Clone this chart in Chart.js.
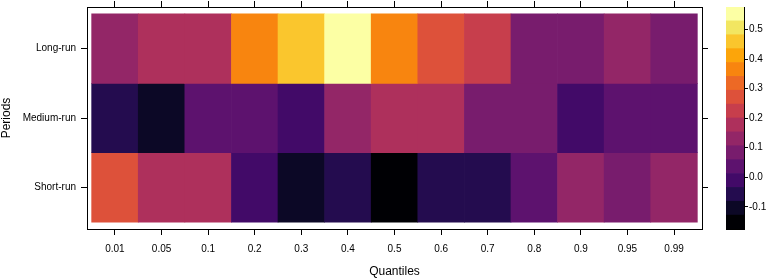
<!DOCTYPE html>
<html><head><meta charset="utf-8">
<script src="https://cdn.jsdelivr.net/npm/chart.js@4.4.1/dist/chart.umd.min.js"></script>
<style>
html,body{margin:0;padding:0;background:#fff;width:769px;height:279px;overflow:hidden}
#main{position:absolute;left:0;top:0}
#bar{position:absolute;left:712px;top:0}
</style></head><body>
<canvas id="main" width="712" height="279"></canvas>
<canvas id="bar" width="57" height="279"></canvas>
<script>
// ---- data ----
const quantiles = ["0.01","0.05","0.1","0.2","0.3","0.4","0.5","0.6","0.7","0.8","0.9","0.95","0.99"];
const periods = ["Long-run","Medium-run","Short-run"];
const longRun   = [0.13, 0.18, 0.17, 0.37, 0.46, 0.576, 0.36, 0.27, 0.22, 0.08, 0.09, 0.13, 0.08];
const mediumRun = [-0.06, -0.10, 0.04, 0.03, -0.01, 0.13, 0.18, 0.17, 0.09, 0.08, -0.02, 0.04, 0.03];
const shortRun  = [0.27, 0.18, 0.17, -0.01, -0.11, -0.06, -0.175, -0.05, -0.06, 0.04, 0.13, 0.08, 0.14];
const colorbarTicks = [-0.1, 0.0, 0.1, 0.2, 0.3, 0.4, 0.5];

// ---- style ----
const palette = ["#000004","#0C0826","#240C4F","#420A68","#5D126E","#781C6D","#932667","#AE305C",
                 "#C73E4C","#DD513A","#ED6925","#F8850F","#FCA50A","#FAC62D","#F2E661","#FCFFA4"];
const FAM = "'Liberation Sans', Arial, Helvetica, sans-serif";
const tickFont = {family: FAM, size: 10};
const titleFont = {family: FAM, size: 12, lineHeight: 1};
const frame = '#000';
const txt = '#000';

const rows = [longRun, mediumRun, shortRun];
const allVals = [].concat(...rows);
const zMin = Math.min(...allVals), zMax = Math.max(...allVals);
const nBins = palette.length;
const breaks = Array.from({length: nBins + 1}, (_, i) => zMin + (zMax - zMin) * i / nBins);
function colorFor(v) {
  let b = Math.floor((v - zMin) / (zMax - zMin) * nBins);
  b = Math.max(0, Math.min(nBins - 1, b));
  return palette[b];
}
function sizeFix(sz) {
  return s => {
    if (s.isHorizontal()) s.height = sz; else s.width = sz;
    s.paddingTop = 0; s.paddingBottom = 0; s.paddingLeft = 0; s.paddingRight = 0;
  };
}

// ---- main heatmap ----
const datasets = rows.map((vals, r) => ({
  label: periods[r],
  data: vals.map((v, i) => ({x: i, y: [r - 0.5, r + 0.5]})),
  backgroundColor: vals.map(colorFor),
  borderWidth: 0,
  barPercentage: 1,
  categoryPercentage: 1,
  grouped: false
}));

function axisBase(extra) {
  return Object.assign({
    type: 'linear',
    offset: false,
    grid: {display: true, offset: false, drawOnChartArea: false, drawTicks: true, tickLength: 6, color: frame, lineWidth: 1},
    border: {display: true, color: frame, width: 1}
  }, extra);
}

new Chart(document.getElementById('main'), {
  type: 'bar',
  data: {datasets},
  options: {
    responsive: false, animation: false, devicePixelRatio: 1,
    layout: {padding: 0},
    plugins: {legend: {display: false}, tooltip: {enabled: false}},
    scales: {
      x: axisBase({
        position: 'bottom', min: -0.6, max: 12.6,
        afterBuildTicks: s => { s.ticks = quantiles.map((_, i) => ({value: i})); },
        ticks: {callback: (v, i) => quantiles[i], font: tickFont, color: txt, padding: 8, autoSkip: false, maxRotation: 0},
        title: {display: true, text: 'Quantiles', font: titleFont, color: txt, padding: {top: 0, bottom: 1.5}},
        afterFit: sizeFix(50)
      }),
      x2: axisBase({
        position: 'top', min: -0.6, max: 12.6,
        afterBuildTicks: s => { s.ticks = quantiles.map((_, i) => ({value: i})); },
        ticks: {display: false},
        afterFit: sizeFix(7)
      }),
      y: axisBase({
        position: 'left', min: -0.6, max: 2.6, reverse: true,
        afterBuildTicks: s => { s.ticks = periods.map((_, i) => ({value: i})); },
        ticks: {callback: (v, i) => periods[i], font: tickFont, color: txt, padding: 5, autoSkip: false},
        title: {display: true, text: 'Periods', font: titleFont, color: txt, padding: {top: 1, bottom: 0}},
        afterFit: sizeFix(87)
      }),
      y2: axisBase({
        position: 'right', min: -0.6, max: 2.6, reverse: true,
        afterBuildTicks: s => { s.ticks = periods.map((_, i) => ({value: i})); },
        ticks: {display: false},
        afterFit: sizeFix(10)
      })
    }
  }
});

// ---- colour key ----
const binDatasets = palette.map((c, i) => ({
  data: [[breaks[i], breaks[i + 1]]],
  backgroundColor: c,
  borderWidth: 0,
  barPercentage: 1,
  categoryPercentage: 1,
  grouped: false
}));

new Chart(document.getElementById('bar'), {
  type: 'bar',
  data: {labels: [''], datasets: binDatasets},
  options: {
    responsive: false, animation: false, devicePixelRatio: 1,
    layout: {padding: 0},
    plugins: {legend: {display: false}, tooltip: {enabled: false}},
    scales: {
      x: {type: 'category', position: 'bottom', ticks: {display: false}, grid: {display: false},
          border: {display: true, color: frame, width: 1}, afterFit: sizeFix(50)},
      x2: {type: 'category', position: 'top', ticks: {display: false}, grid: {display: false},
           border: {display: true, color: frame, width: 1}, afterFit: sizeFix(7)},
      y: {type: 'linear', position: 'right', min: zMin, max: zMax,
          afterBuildTicks: s => { s.ticks = colorbarTicks.map(v => ({value: v})); },
          ticks: {callback: v => v.toFixed(1), font: tickFont, color: txt, padding: 1, autoSkip: false},
          grid: {display: true, drawOnChartArea: false, drawTicks: true, tickLength: 4, color: frame},
          border: {display: true, color: frame, width: 1},
          afterFit: sizeFix(25)},
      y2: {type: 'linear', position: 'left', min: zMin, max: zMax,
           ticks: {display: false}, grid: {display: false},
           border: {display: true, color: frame, width: 1},
           afterFit: sizeFix(14)}
    }
  }
});
</script>
</body></html>
